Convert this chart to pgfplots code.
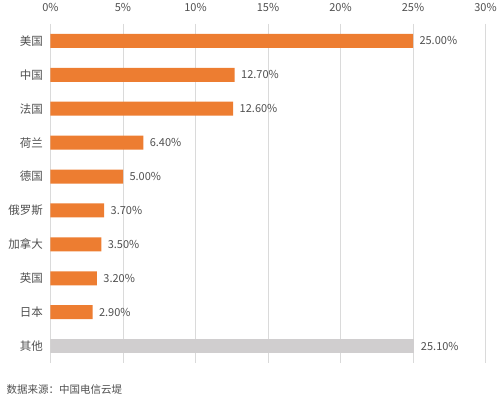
\documentclass[border=0pt]{standalone}
\usepackage{pgfplots}
\pgfplotsset{compat=1.18}
\usepackage{fontspec}
\setmainfont{Noto Sans CJK SC}
\definecolor{barorange}{HTML}{ED7D31}
\definecolor{bargray}{HTML}{D0CECF}
\definecolor{gridgray}{HTML}{DADADA}
\definecolor{txt}{HTML}{505050}
\begin{document}
\begin{tikzpicture}[x=1pt,y=1pt]
\path[use as bounding box] (0,0) rectangle (500,398);
\begin{axis}[
  at={(50.5pt,374pt)}, anchor=north west,
  scale only axis, width=435pt, height=339pt,
  xmin=0, xmax=30, ymin=-0.5, ymax=9.5,
  y dir=reverse,
  xbar, bar width=14pt, bar shift=0pt,
  axis line style={draw=none},
  xtick={0,5,10,15,20,25,30},
  xticklabel={\pgfmathprintnumber{\tick}\%},
  xticklabel pos=top,
  xmajorgrids, major grid style={gridgray, line width=0.6pt},
  major tick length=0pt,
  ytick={0,...,9},
  yticklabels={美国,中国,法国,荷兰,德国,俄罗斯,加拿大,英国,日本,其他},
  ticklabel style={font=\fontsize{11}{13}\selectfont, text=txt},
  yticklabel style={font=\fontsize{11.5}{13}\selectfont, xshift=-4pt},
  xticklabel style={yshift=9pt},
  /pgf/number format/assume math mode=true,
  nodes near coords={\pgfmathprintnumber[fixed,precision=2,fixed zerofill]{\pgfplotspointmeta}\%},
  nodes near coords style={font=\fontsize{11}{13}\selectfont, text=txt, xshift=3pt},
  point meta=x,
]
\addplot[fill=barorange, draw=none] coordinates {
 (25.0,0) (12.7,1) (12.6,2) (6.4,3) (5.0,4) (3.7,5) (3.5,6) (3.2,7) (2.9,8)};
\addplot[fill=bargray, draw=none] coordinates {(25.1,9)};
\end{axis}
\node[anchor=west, font=\fontsize{10.5}{12}\selectfont, text=txt] at (3,8) {数据来源：中国电信云堤};
\end{tikzpicture}
\end{document}
